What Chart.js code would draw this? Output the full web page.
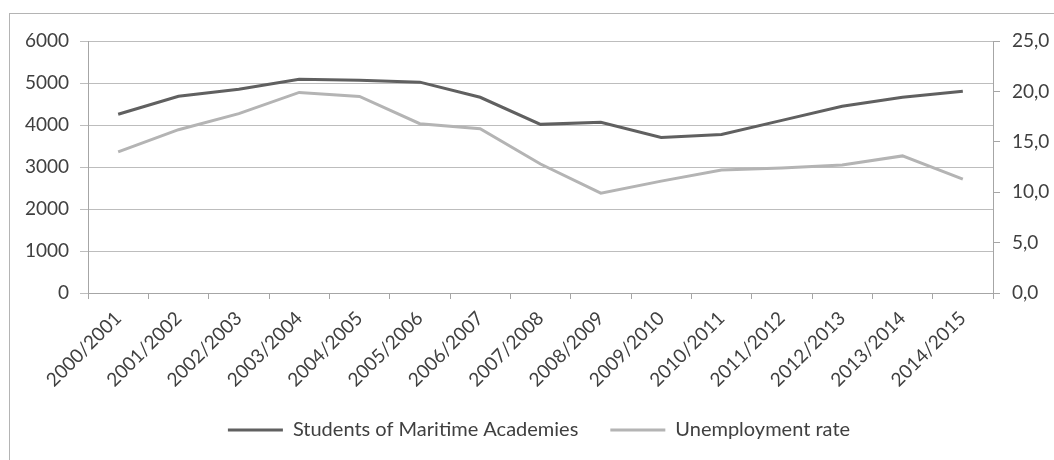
<!DOCTYPE html>
<html>
<head>
<meta charset="utf-8">
<script src="https://cdn.jsdelivr.net/npm/chart.js@4/dist/chart.umd.min.js"></script>
<style>
  html, body { margin: 0; padding: 0; background: #fff; }
  #wrap { position: relative; width: 1054px; height: 460px; overflow: hidden; }
  #frame { position: absolute; left: 9px; top: 13px; width: 1100px; height: 500px;
           border-left: 1px solid #b4b4b4; border-top: 1px solid #b4b4b4; }
  canvas { position: absolute; left: 0; top: 0; }
</style>
</head>
<body>
<div id="wrap">
  <div id="frame"></div>
  <canvas id="chart" width="1054" height="460"></canvas>
</div>
<script>
var years = ["2000/2001", "2001/2002", "2002/2003", "2003/2004", "2004/2005",
  "2005/2006", "2006/2007", "2007/2008", "2008/2009", "2009/2010",
  "2010/2011", "2011/2012", "2012/2013", "2013/2014", "2014/2015"];
var students = [4255, 4685, 4850, 5090, 5065, 5020, 4660, 4015, 4065, 3705, 3775, 4110, 4445, 4660, 4805];
var unemployment = [14.0, 16.2, 17.8, 19.9, 19.5, 16.8, 16.3, 12.8, 9.9, 11.1, 12.2, 12.4, 12.7, 13.6, 11.3];
var leftTicks = [0, 1000, 2000, 3000, 4000, 5000, 6000];
var rightTicks = [0, 5, 10, 15, 20, 25];

load();

function load() {
  Chart.defaults.font.family = "Lato";
  Chart.defaults.font.size = 19;
  Chart.defaults.color = "#404040";
  make_chart();
}

function make_chart() {
  var config = {
    type: "line",
    data: {
      labels: years,
      datasets: [
        {
          label: "Students of Maritime Academies",
          data: students,
          yAxisID: "y",
          borderColor: "#606060",
          backgroundColor: "#606060",
          borderWidth: 3,
          pointRadius: 0,
          tension: 0
        },
        {
          label: "Unemployment rate",
          data: unemployment,
          yAxisID: "y1",
          borderColor: "#b4b4b4",
          backgroundColor: "#b4b4b4",
          borderWidth: 3,
          pointRadius: 0,
          tension: 0
        }
      ]
    },
    options: {
      responsive: false,
      animation: false,
      layout: { padding: { left: 24, right: 0, top: 41, bottom: 10 } },
      plugins: {
        tooltip: { enabled: false },
        legend: {
          position: "bottom",
          labels: {
            usePointStyle: true,
            pointStyle: "line",
            pointStyleWidth: 55,
            boxHeight: 18,
            padding: 32,
            color: "#404040",
            font: { size: 20 }
          }
        }
      },
      scales: {
        x: {
          offset: true,
          grid: { offset: true, drawOnChartArea: false, color: "#a6a6a6", tickLength: 6 },
          border: { color: "#a6a6a6" },
          ticks: { minRotation: 45, maxRotation: 45, padding: 8, autoSkip: false },
          afterFit: function (s) { s.height = 95; }
        },
        y: {
          position: "left",
          min: 0,
          max: 6000,
          afterBuildTicks: function (s) { s.ticks = leftTicks.map(function (v) { return { value: v }; }); },
          grid: { color: "#bdbdbd", tickLength: 8 },
          border: { color: "#a6a6a6" },
          ticks: { padding: 11, callback: function (v) { return String(v); } },
          afterFit: function (s) { s.width = 64; }
        },
        y1: {
          position: "right",
          min: 0,
          max: 25,
          afterBuildTicks: function (s) { s.ticks = rightTicks.map(function (v) { return { value: v }; }); },
          grid: { drawOnChartArea: false, color: "#a6a6a6", tickLength: 7 },
          border: { color: "#a6a6a6" },
          ticks: {
            padding: 12,
            callback: function (v) { return v.toFixed(1).replace(".", ","); }
          },
          afterFit: function (s) { s.width = 61; }
        }
      }
    }
  };
  var canvas = document.getElementById("chart");
  canvas.chart = new Chart(canvas.getContext("2d"), config);
}
</script>
</body>
</html>
